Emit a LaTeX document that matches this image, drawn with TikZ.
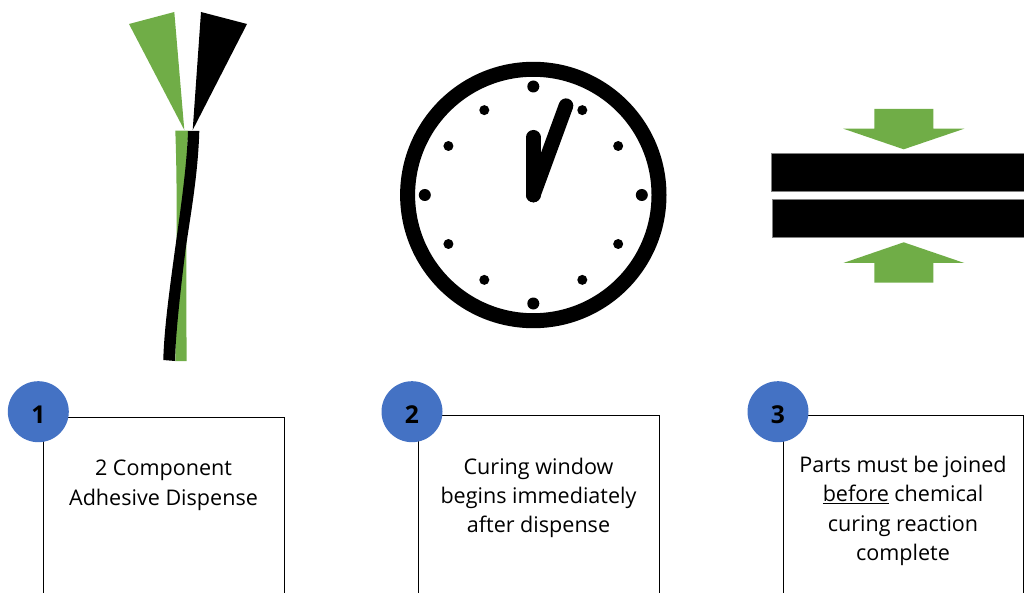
\documentclass[tikz,border=0pt]{standalone}
\usepackage{fontspec}
\setmainfont{Open Sans}
\usepackage{xcolor}
\usetikzlibrary{positioning}
\definecolor{gluegreen}{RGB}{112,173,71}
\definecolor{stepblue}{RGB}{68,114,196}
\tikzset{
  step badge/.style={
    circle,
    fill=stepblue,
    minimum size=1.83cm,
    inner sep=0pt,
    text height=20pt,
    text depth=0pt,
    font=\fontsize{21}{24}\selectfont\bfseries
  },
  step text/.style={
    align=center,
    anchor=north,
    font=\fontsize{18.4}{25}\selectfont
  },
  step frame/.style={
    draw=black,
    line width=0.8pt
  },
  clock dot/.style={
    fill=black
  },
  clock hand/.style={
    line width=12.5pt,
    line cap=round
  },
  plate/.style={
    fill=black,
    draw=gray,
    line width=0.5pt
  }
}

\begin{document}
\begin{tikzpicture}[x=0.03cm,y=-0.03cm]
  \useasboundingbox (0,0) rectangle (1024,593);

  % Adhesive fan
  \fill[gluegreen] (129,24) -- (174.3,12) -- (184.3,130) -- cycle;
  \fill[black] (201,12) -- (247,24) -- (192.7,130) -- cycle;

  % Twisted strands
  \fill[gluegreen] (175.3,130.7) -- (188,130.7) .. controls (186,200) and (186,290) .. (186.7,361) -- (175.3,361) .. controls (176,300) and (178,200) .. cycle;
  \fill[black] (188,131) -- (199.3,131) .. controls (198,175) and (190.5,215) .. (185.5,250) .. controls (180.5,290) and (175.5,335) .. (175,361) -- (163.3,360) .. controls (164,330) and (169.5,290) .. (174.5,253) .. controls (180.5,210) and (187,165) .. cycle;

  % Clock
  \coordinate (clockc) at (533.3,195);
  \draw[line width=12.8pt] (clockc) circle (125.7);
  \foreach \a in {0,90,180,270}
    \fill[clock dot] (clockc) ++(\a:108.5 and -108.5) circle (6);
  \foreach \a in {30,60,120,150,210,240,300,330}
    \fill[clock dot] (clockc) ++(\a:98 and -98) circle (5);
  \coordinate (hourtip) at (533.3,137.3);
  \coordinate (minutetip) at (566,105.7);
  \draw[clock hand] (clockc) -- (hourtip);
  \draw[clock hand] (clockc) -- (minutetip);

  % Press arrows and plates
  \fill[gluegreen] (874.3,109) -- (933.3,109) -- (933.3,128.7) -- (964.3,128.7) -- (903.7,149.3) -- (843.3,128.7) -- (874.3,128.7) -- cycle;
  \fill[gluegreen] (874.3,282.7) -- (933.3,282.7) -- (933.3,263) -- (964.3,263) -- (903.7,242.3) -- (843.3,263) -- (874.3,263) -- cycle;
  \draw[plate] (771.3,153.3) rectangle (1025,191);
  \draw[plate] (772,199) rectangle (1025,237);

  % Step 1
  \draw[step frame] (43,594) -- (43,417) -- (284.5,417) -- (284.5,594);
  \node[step badge] (badgeone) at (38.3,411.7) {1};
  \node[step text] (textone) at (163.5,456) {2 Component\\Adhesive Dispense};

  % Step 2
  \draw[step frame] (418,594) -- (418,415) -- (659.5,415) -- (659.5,594);
  \node[step badge] (badgetwo) at (412,411.7) {2};
  \node[step text] (texttwo) at (538.5,453.5) {Curing window\\begins immediately\\after dispense};

  % Step 3
  \draw[step frame] (783,594) -- (783,415) -- (1023.5,415) -- (1023.5,594);
  \node[step badge] (badgethree) at (778,411.7) {3};
  \node[step text] (textthree) at (903,452) {Parts must be joined\\\underline{before} chemical\\curing reaction\\complete};

\end{tikzpicture}
\end{document}
